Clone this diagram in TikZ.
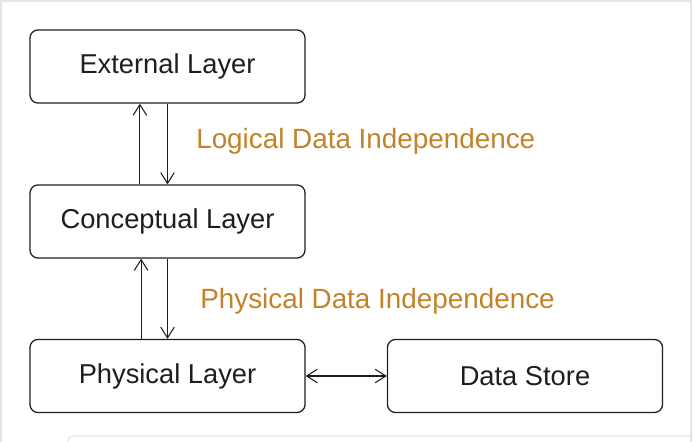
\documentclass[tikz,border=0pt]{standalone}
\usepackage{fontspec}
\setmainfont{Liberation Sans}
\usetikzlibrary{arrows.meta}
\definecolor{inkdark}{HTML}{1E1E1E}
\definecolor{labelorange}{RGB}{196,130,40}
\definecolor{framegray}{HTML}{E4E4E4}
\begin{document}
\begin{tikzpicture}[x=0.025cm, y=-0.025cm,
  layer/.style={draw=inkdark, line width=0.9pt, rounded corners=0.2cm, minimum width=6.875cm, minimum height=1.825cm, font=\fontsize{19.4}{23}\selectfont, text=inkdark},
  mapping/.style={font=\fontsize{19.8}{23}\selectfont, text=labelorange, anchor=west, inner sep=0pt},
  arr/.style={draw=inkdark, line width=0.75pt, -{Straight Barb[length=2.7mm, width=3.4mm]}}]
% Set the picture size
\useasboundingbox (0,0) rectangle (693,442);
\draw[framegray, line width=0.8pt] (1,442) -- (1,1) -- (691,1) -- (691,442);
\draw[framegray, line width=0.8pt, rounded corners=0.1cm] (68,445) -- (68,436) -- (695,436);

% Draw the layers
\node[layer] (external) at (167.5, 66.5) {External Layer};
\node[layer] (conceptual) at (167.5, 221.5) {Conceptual Layer};
\node[layer] (physical) at (167.5, 376) {Physical Layer};
\node[layer] (store) at (525, 376) {Data Store};

% Draw the mappings
\draw[arr] ([xshift=-0.69cm]conceptual.north) -- ([xshift=-0.69cm]external.south);
\draw[arr] (external.south) -- (conceptual.north);
\draw[arr] ([xshift=-0.66cm]physical.north) -- ([xshift=-0.66cm]conceptual.south);
\draw[arr] (conceptual.south) -- (physical.north);
\draw[arr, {Straight Barb[length=2.7mm, width=3.4mm]}-{Straight Barb[length=2.7mm, width=3.4mm]}] (physical.east) -- (store.west);

\node[mapping] (logical) at (196, 141) {Logical Data Independence};
\node[mapping] (physicalind) at (200, 301) {Physical Data Independence};
\end{tikzpicture}
\end{document}
